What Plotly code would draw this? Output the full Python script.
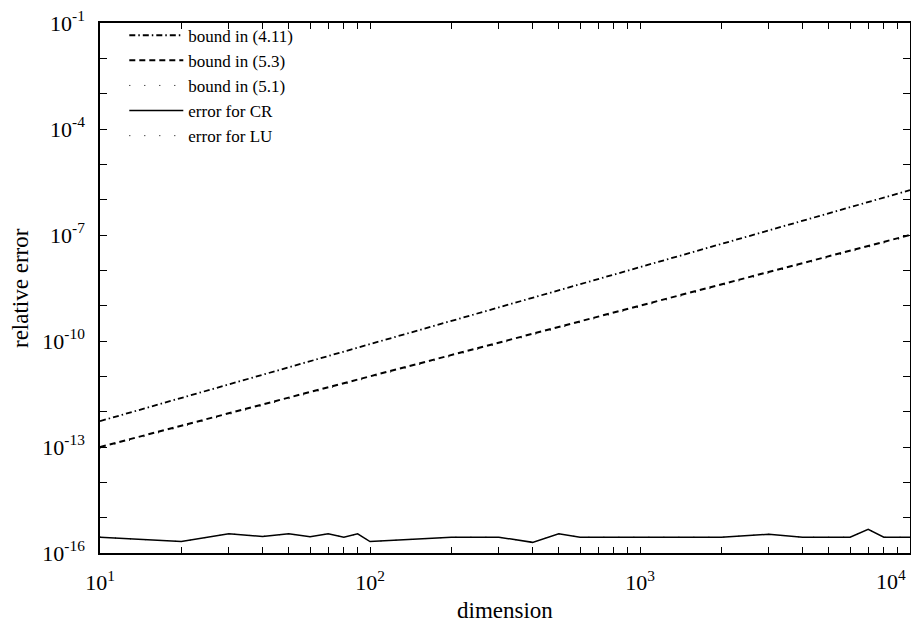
import plotly.graph_objects as go

# ---- data ----
bound_n = [10, 100, 1000, 10000]
bound_411 = [5.4e-13, 8.1e-11, 1.23e-8, 1.86e-6]
bound_53 = [1.0e-13, 1.0e-11, 1.0e-9, 1.0e-7]
bound_51 = [0.93e-13, 0.93e-11, 0.93e-9, 0.93e-7]

err_n = [10, 20, 30, 40, 50, 60, 70, 80, 90, 100, 200, 300, 400, 500, 600,
         1000, 2000, 3000, 4000, 5000, 6000, 7000, 8000, 9000, 10000]
err_cr = [2.8e-16, 2.1e-16, 3.5e-16, 2.95e-16, 3.5e-16, 2.9e-16, 3.5e-16, 2.8e-16, 3.5e-16, 2.1e-16,
          2.8e-16, 2.8e-16, 2.0e-16, 3.5e-16, 2.8e-16,
          2.8e-16, 2.8e-16, 3.4e-16, 2.8e-16, 2.8e-16, 2.8e-16, 4.7e-16, 2.8e-16, 2.8e-16, 2.8e-16]
err_lu = err_cr

x_tickvals = [m * 10 ** e for e in range(1, 4) for m in range(1, 10)] + [10000]
x_ticktext = [("10<sup>%d</sup>" % e if m == 1 else "") for e in range(1, 4) for m in range(1, 10)] + [""]
last_x_label = "10<sup>4</sup>"
y_exps = list(range(-16, 0))
y_tickvals = [10.0 ** e for e in y_exps]
y_ticktext = [("10<sup>%d</sup>" % e if e % 3 == 2 else "") for e in y_exps]

FONT = "Liberation Serif"
TICKSIZE = 22
TITLESIZE = 23
LEGENDSIZE = 17

fig = go.Figure()
fig.add_trace(go.Scatter(x=bound_n, y=bound_411, mode="lines", name="bound in (4.11)",
                         line=dict(color="black", width=1.8, dash="6px,3px,1.5px,3px")))
fig.add_trace(go.Scatter(x=bound_n, y=bound_53, mode="lines", name="bound in (5.3)",
                         line=dict(color="black", width=2, dash="6px,4px")))
fig.add_trace(go.Scatter(x=bound_n, y=bound_51, mode="lines", name="bound in (5.1)",
                         line=dict(color="black", width=1, dash="1px,14px")))
fig.add_trace(go.Scatter(x=err_n, y=err_cr, mode="lines", name="error for CR",
                         line=dict(color="black", width=1.5)))
fig.add_trace(go.Scatter(x=err_n, y=err_lu, mode="lines", name="error for LU",
                         line=dict(color="black", width=1, dash="1px,14px")))

axis_common = dict(showgrid=False, zeroline=False, showline=True, linecolor="black", linewidth=1.5,
                   ticks="inside", tickcolor="black", mirror="ticks", ticklabeloverflow="allow",
                   tickfont=dict(family=FONT, size=TICKSIZE, color="black"))

fig.update_xaxes(type="log", range=[1, 4], tickmode="array", tickvals=x_tickvals, ticktext=x_ticktext,
                 ticklen=6, tickwidth=1.2, ticklabelstandoff=9, **axis_common)
fig.update_yaxes(type="log", range=[-16, -1], tickmode="array", tickvals=y_tickvals, ticktext=y_ticktext,
                 ticklen=7, tickwidth=1.2, ticklabelstandoff=9, **axis_common)

# axis titles and the last tick label (kept inside the window)
fig.add_annotation(text="relative error", xref="paper", yref="paper", x=0, y=0.5,
                   xanchor="center", yanchor="middle", xshift=-80, textangle=-90, showarrow=False,
                   font=dict(family=FONT, size=TITLESIZE, color="black"))
fig.add_annotation(text="dimension", xref="paper", yref="paper", x=0.5, y=0,
                   xanchor="center", yanchor="middle", yshift=-57, showarrow=False,
                   font=dict(family=FONT, size=TITLESIZE, color="black"))
fig.add_annotation(text=last_x_label, xref="x", yref="paper", x=4, y=0,
                   xanchor="right", yanchor="top", xshift=-2, yshift=-11, showarrow=False,
                   font=dict(family=FONT, size=TICKSIZE, color="black"))

fig.update_layout(
    width=919, height=624,
    margin=dict(l=92, r=17, t=15, b=79, autoexpand=False),
    plot_bgcolor="white", paper_bgcolor="white",
    font=dict(family=FONT, size=18, color="black"),
    showlegend=True,
    legend=dict(x=0.03, y=1.01, xanchor="left", yanchor="top", bgcolor="rgba(0,0,0,0)",
                borderwidth=0, itemwidth=54, font=dict(family=FONT, size=LEGENDSIZE, color="black"),
                tracegroupgap=0),
)

fig.write_html("out.html")
